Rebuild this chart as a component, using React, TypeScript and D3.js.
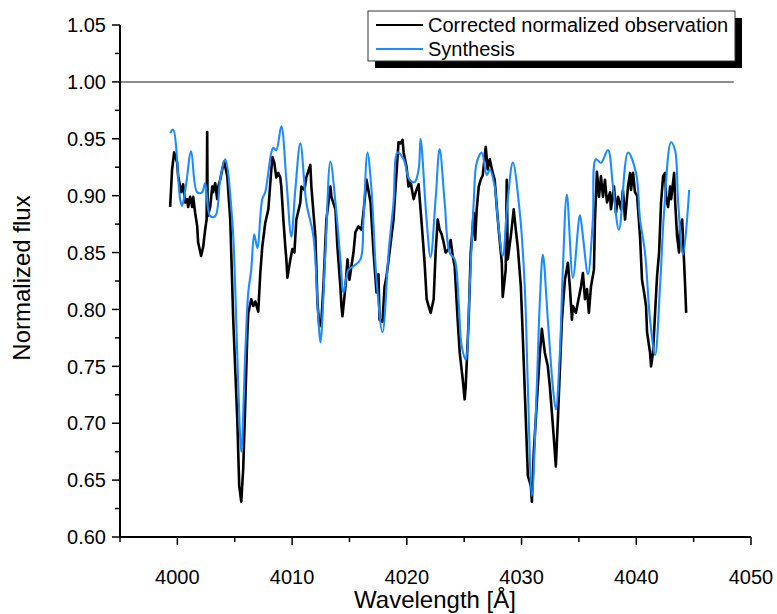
import React from "react";
import * as d3 from "d3";

const obsWavelength = [
  3999.37, 3999.54, 3999.72, 3999.98, 4000.07, 4000.33, 4000.5, 4000.68, 4000.85, 4000.94,
  4001.11, 4001.29, 4001.38, 4001.55, 4001.73, 4001.81, 4002.07, 4002.25, 4002.42, 4002.55,
  4002.6, 4002.64, 4002.86, 4003.04, 4003.12, 4003.3, 4003.47, 4003.56, 4003.73, 4003.91,
  4004.08, 4004.35, 4004.61, 4004.87, 4005.22, 4005.39, 4005.57, 4005.74, 4005.92, 4006.09,
  4006.18, 4006.44, 4006.62, 4006.79, 4007.05, 4007.23, 4007.4, 4007.66, 4007.93, 4008.19,
  4008.28, 4008.45, 4008.62, 4008.8, 4008.97, 4009.06, 4009.24, 4009.41, 4009.5, 4009.59,
  4009.85, 4010.02, 4010.2, 4010.37, 4010.72, 4010.81, 4011.07, 4011.24, 4011.59, 4011.68,
  4012.03, 4012.21, 4012.38, 4012.56, 4012.73, 4012.99, 4013.34, 4013.43, 4013.78, 4013.95,
  4014.21, 4014.3, 4014.39, 4014.65, 4014.83, 4015.0, 4015.17, 4015.35, 4015.52, 4015.79,
  4016.05, 4016.22, 4016.49, 4016.84, 4017.1, 4017.36, 4017.53, 4017.62, 4017.88, 4018.06,
  4018.23, 4018.49, 4018.84, 4019.02, 4019.28, 4019.46, 4019.63, 4019.72, 4019.98, 4020.15,
  4020.33, 4020.59, 4020.77, 4021.03, 4021.11, 4021.29, 4021.55, 4021.73, 4021.9, 4022.08,
  4022.34, 4022.51, 4022.69, 4022.86, 4023.04, 4023.21, 4023.38, 4023.65, 4023.82, 4024.0,
  4024.17, 4024.43, 4024.61, 4024.87, 4025.04, 4025.13, 4025.39, 4025.57, 4025.83, 4025.96,
  4026.09, 4026.27, 4026.44, 4026.62, 4026.88, 4027.05, 4027.23, 4027.49, 4027.66, 4027.84,
  4028.01, 4028.28, 4028.36, 4028.62, 4028.71, 4028.8, 4029.06, 4029.32, 4029.5, 4029.67,
  4029.94, 4030.11, 4030.37, 4030.55, 4030.81, 4030.9, 4031.07, 4031.33, 4031.6, 4031.77,
  4032.03, 4032.29, 4032.47, 4032.64, 4032.82, 4032.99, 4033.17, 4033.34, 4033.52, 4033.78,
  4034.04, 4034.21, 4034.39, 4034.48, 4034.74, 4034.91, 4035.18, 4035.35, 4035.53, 4035.7,
  4035.87, 4036.05, 4036.31, 4036.4, 4036.57, 4036.75, 4036.92, 4037.1, 4037.27, 4037.45,
  4037.71, 4037.79, 4038.06, 4038.23, 4038.41, 4038.67, 4038.84, 4039.02, 4039.28, 4039.46,
  4039.54, 4039.72, 4039.89, 4040.07, 4040.33, 4040.5, 4040.68, 4040.85, 4040.94, 4041.2,
  4041.29, 4041.46, 4041.64, 4041.81, 4041.99, 4042.16, 4042.34, 4042.51, 4042.6, 4042.77,
  4042.95, 4043.04, 4043.3, 4043.39, 4043.56, 4043.73, 4043.82, 4044.0, 4044.17, 4044.26,
  4044.35,
];
const obsFlux = [
  0.89, 0.923, 0.938, 0.929, 0.917, 0.903, 0.91, 0.894, 0.897, 0.89,
  0.899, 0.89, 0.899, 0.885, 0.873, 0.859, 0.847, 0.855, 0.87, 0.879,
  0.956, 0.882, 0.89, 0.908, 0.903, 0.911, 0.897, 0.908, 0.914, 0.923,
  0.93, 0.917, 0.879, 0.791, 0.704, 0.645, 0.631, 0.66, 0.718, 0.776,
  0.797, 0.809, 0.803, 0.807, 0.798, 0.832, 0.855, 0.876, 0.888, 0.923,
  0.934, 0.929, 0.916, 0.92, 0.916, 0.908, 0.879, 0.855, 0.844, 0.828,
  0.844, 0.853, 0.85, 0.879, 0.894, 0.908, 0.905, 0.916, 0.927, 0.908,
  0.864, 0.806, 0.785, 0.791, 0.82, 0.879, 0.908, 0.899, 0.888, 0.855,
  0.82, 0.803, 0.794, 0.82, 0.844, 0.826, 0.838, 0.85, 0.868, 0.873,
  0.87, 0.885, 0.914, 0.894, 0.85, 0.815, 0.831, 0.791, 0.789, 0.82,
  0.829, 0.85, 0.879, 0.908, 0.947, 0.946, 0.949, 0.938, 0.925, 0.908,
  0.912, 0.897, 0.903, 0.91, 0.899, 0.876, 0.841, 0.809, 0.803, 0.797,
  0.809, 0.85, 0.879, 0.87, 0.866, 0.859, 0.85, 0.853, 0.861, 0.847,
  0.838, 0.791, 0.762, 0.739, 0.721, 0.732, 0.791, 0.85, 0.885, 0.861,
  0.888, 0.908, 0.914, 0.918, 0.943, 0.923, 0.932, 0.92, 0.914, 0.89,
  0.87, 0.841, 0.811, 0.835, 0.914, 0.844, 0.864, 0.888, 0.87, 0.855,
  0.82, 0.776, 0.704, 0.654, 0.645, 0.631, 0.675, 0.718, 0.762, 0.783,
  0.762, 0.75, 0.732, 0.71, 0.686, 0.662, 0.704, 0.747, 0.791, 0.826,
  0.841, 0.82, 0.791, 0.803, 0.797, 0.806, 0.82, 0.832, 0.809, 0.818,
  0.797, 0.82, 0.835, 0.879, 0.921, 0.899, 0.917, 0.899, 0.914, 0.894,
  0.903, 0.888, 0.908, 0.885, 0.899, 0.888, 0.905, 0.879, 0.908, 0.92,
  0.905, 0.92, 0.903, 0.9, 0.864, 0.826, 0.815, 0.803, 0.78, 0.762,
  0.75, 0.762, 0.797, 0.829, 0.85, 0.894, 0.917, 0.92, 0.899, 0.89,
  0.908, 0.897, 0.92, 0.894, 0.864, 0.85, 0.873, 0.879, 0.841, 0.82,
  0.797,
];

const synWavelength = [
  3999.37, 3999.63, 4000.24, 4000.41, 4000.76, 4001.2, 4001.72, 4002.16, 4002.42, 4002.86,
  4003.3, 4003.73, 4004.17, 4004.78, 4005.04, 4005.31, 4005.57, 4005.92, 4006.18, 4006.44,
  4006.7, 4006.97, 4007.4, 4007.66, 4008.19, 4008.36, 4008.62, 4009.06, 4009.5, 4009.93,
  4010.28, 4010.72, 4011.24, 4011.86, 4012.29, 4012.47, 4012.9, 4013.34, 4013.78, 4014.21,
  4014.48, 4014.91, 4015.35, 4015.96, 4016.22, 4016.57, 4016.92, 4017.36, 4017.88, 4018.41,
  4018.84, 4019.19, 4019.72, 4020.24, 4020.68, 4021.03, 4021.2, 4021.72, 4022.07, 4022.51,
  4022.86, 4023.3, 4023.73, 4024.17, 4024.52, 4024.78, 4025.13, 4025.48, 4025.83, 4026.09,
  4026.53, 4026.97, 4027.23, 4027.66, 4027.93, 4028.36, 4028.8, 4029.24, 4029.85, 4030.28,
  4030.55, 4030.9, 4031.33, 4031.59, 4031.86, 4032.29, 4032.73, 4032.99, 4033.34, 4033.6,
  4033.95, 4034.48, 4035.09, 4035.35, 4035.79, 4036.22, 4036.48, 4036.92, 4037.53, 4037.97,
  4038.49, 4039.28, 4039.98, 4040.33, 4040.76, 4041.2, 4041.64, 4042.07, 4042.42, 4043.03,
  4043.38, 4043.65, 4044.08, 4044.61,
];
const synFlux = [
  0.955, 0.958, 0.897, 0.891, 0.91, 0.939, 0.903, 0.903, 0.911, 0.882,
  0.882, 0.914, 0.932, 0.879, 0.82, 0.732, 0.675, 0.762, 0.815, 0.835,
  0.866, 0.854, 0.897, 0.903, 0.938, 0.942, 0.94, 0.961, 0.914, 0.864,
  0.905, 0.946, 0.894, 0.864, 0.791, 0.771, 0.85, 0.93, 0.894, 0.844,
  0.815, 0.835, 0.838, 0.844, 0.879, 0.938, 0.905, 0.826, 0.78, 0.85,
  0.894, 0.938, 0.932, 0.914, 0.912, 0.923, 0.95, 0.879, 0.846, 0.897,
  0.941, 0.894, 0.85, 0.844, 0.806, 0.768, 0.756, 0.82, 0.894, 0.929,
  0.938, 0.918, 0.923, 0.908, 0.879, 0.847, 0.897, 0.929, 0.885, 0.82,
  0.732, 0.636, 0.732, 0.806, 0.848, 0.791, 0.732, 0.712, 0.762, 0.835,
  0.901, 0.828, 0.883, 0.864, 0.831, 0.879, 0.932, 0.929, 0.94, 0.908,
  0.87, 0.938, 0.92, 0.879, 0.85, 0.791, 0.76, 0.82, 0.885, 0.947,
  0.94, 0.894, 0.848, 0.905,
];

const continuumWavelength = [3995, 4048.5];
const continuumFlux = [1.0, 1.0];

const xMajorTicks = [4000, 4010, 4020, 4030, 4040, 4050];
const xMinorTicks = [3995, 4005, 4015, 4025, 4035, 4045];
const yMajorTicks = [0.6, 0.65, 0.7, 0.75, 0.8, 0.85, 0.9, 0.95, 1.0, 1.05];
const yMinorTicks = [0.625, 0.675, 0.725, 0.775, 0.825, 0.875, 0.925, 0.975, 1.025];

const seriesNames = ["Corrected normalized observation", "Synthesis"];
const xTitle = "Wavelength [Å]";
const yTitle = "Normalized flux";

const FONT = "'Liberation Sans', Arial, sans-serif";
const BLUE = "#1a8cff";

export default function App() {
  const W = 777;
  const H = 614;
  const x = d3.scaleLinear().domain([3995, 4050]).range([120, 751]);
  const y = d3.scaleLinear().domain([0.6, 1.05]).range([537, 25]);

  const obs = obsWavelength.map((w, i) => [w, obsFlux[i]] as [number, number]);
  const syn = synWavelength.map((w, i) => [w, synFlux[i]] as [number, number]);
  const cont = continuumWavelength.map((w, i) => [w, continuumFlux[i]] as [number, number]);

  const lineLinear = d3
    .line<[number, number]>()
    .x((d) => x(d[0]))
    .y((d) => y(d[1]));
  const lineSmooth = d3
    .line<[number, number]>()
    .x((d) => x(d[0]))
    .y((d) => y(d[1]))
    .curve(d3.curveCatmullRom.alpha(0.5));

  const x0 = x(3995);
  const y0 = y(0.6);

  const lg = { x: 368, y: 11, w: 367, h: 50 };

  return (
    <svg
      width={W}
      height={H}
      style={{ position: "absolute", left: 0, top: 0, background: "#fff" }}
      fontFamily={FONT}
    >
      <rect x={0} y={0} width={W} height={H} fill="#fff" />
      <path d={lineLinear(cont) || ""} stroke="#8c8c8c" strokeWidth={2} fill="none" />

      <path
        d={lineLinear(obs) || ""}
        stroke="#000"
        strokeWidth={2.6}
        fill="none"
        strokeLinejoin="round"
      />
      <path
        d={lineSmooth(syn) || ""}
        stroke={BLUE}
        strokeWidth={2.1}
        fill="none"
        strokeLinejoin="round"
      />

      <line x1={x0} y1={y(1.05)} x2={x0} y2={y0} stroke="#000" strokeWidth={2} />
      <line x1={x0} y1={y0} x2={x(4050)} y2={y0} stroke="#000" strokeWidth={2} />
      {yMajorTicks.map((t) => (
        <g key={"ym" + t}>
          <line x1={x0 - 8} x2={x0} y1={y(t)} y2={y(t)} stroke="#000" strokeWidth={1.5} />
          <text
            x={x0 - 14}
            y={y(t)}
            dy="0.36em"
            textAnchor="end"
            fontSize={20}
            fill="#000"
          >
            {t.toFixed(2)}
          </text>
        </g>
      ))}
      {yMinorTicks.map((t) => (
        <line key={"yn" + t} x1={x0 - 5} x2={x0} y1={y(t)} y2={y(t)} stroke="#000" strokeWidth={1.5} />
      ))}
      {xMajorTicks.map((t) => (
        <g key={"xm" + t}>
          <line x1={x(t)} x2={x(t)} y1={y0} y2={y0 + 8} stroke="#000" strokeWidth={1.5} />
          <text x={x(t)} y={y0 + 47} textAnchor="middle" fontSize={20} fill="#000">
            {t}
          </text>
        </g>
      ))}
      {xMinorTicks.map((t) => (
        <line key={"xn" + t} x1={x(t)} x2={x(t)} y1={y0} y2={y0 + 5} stroke="#000" strokeWidth={1.5} />
      ))}

      <text x={435} y={608} textAnchor="middle" fontSize={24} fill="#000">
        {xTitle}
      </text>
      <text
        transform={`translate(30, 278) rotate(-90)`}
        textAnchor="middle"
        fontSize={24}
        fill="#000"
      >
        {yTitle}
      </text>

      <rect x={lg.x + 7} y={lg.y + 7} width={lg.w} height={lg.h} fill="#000" />
      <rect x={lg.x} y={lg.y} width={lg.w} height={lg.h} fill="#fff" stroke="#333" strokeWidth={1} />
      {seriesNames.map((name, i) => (
        <g key={name}>
          <line
            x1={lg.x + 8}
            x2={lg.x + 55}
            y1={lg.y + 14 + i * 24}
            y2={lg.y + 14 + i * 24}
            stroke={i === 0 ? "#000" : BLUE}
            strokeWidth={2}
          />
          <text x={lg.x + 60} y={lg.y + 14 + i * 24} dy="0.36em" fontSize={20} fill="#000">
            {name}
          </text>
        </g>
      ))}
    </svg>
  );
}
